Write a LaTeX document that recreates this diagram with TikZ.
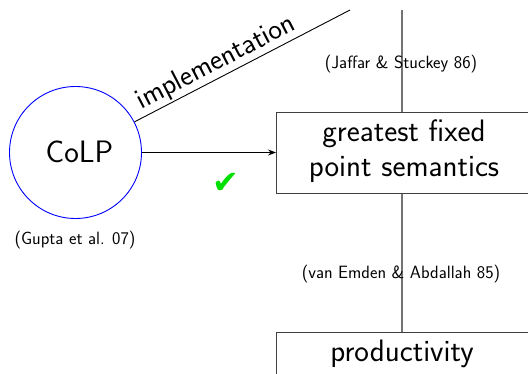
\documentclass[tikz,border=0pt]{standalone}
\usepackage{fontspec}
\renewcommand\familydefault{\sfdefault}
\newfontfamily\dingfont{DejaVu Sans}
\usetikzlibrary{arrows.meta}
\definecolor{rulegray}{HTML}{747474}
\definecolor{boxgray}{HTML}{404040}
\definecolor{tickgreen}{HTML}{00E000}
\tikzset{
  bigtext/.style={font=\fontsize{31}{35}\selectfont, inner sep=0pt, align=center},
  smalltext/.style={font=\fontsize{17.8}{21}\selectfont, inner sep=0pt},
  conceptbox/.style={draw=boxgray, line width=1.3pt, rectangle, inner sep=0pt, anchor=north west},
  colpcircle/.style={draw=blue, line width=0.9pt, circle, minimum size=132pt, inner sep=0pt},
  thread/.style={draw=rulegray, line width=1.8pt},
  link/.style={draw=black, line width=0.9pt},
}
\begin{document}
\begin{tikzpicture}[x=1pt, y=-1pt]
  \useasboundingbox (0,0) rectangle (528,374);
  \begin{scope}
    \clip (0,0) rectangle (528,374);

    % the chain of semantics on the right
    \coordinate (threadtop) at (402,10);
    \node[conceptbox, minimum width=300pt, minimum height=81pt] (gfpbox) at (276,112) {};
    \node[bigtext, anchor=base] (gfp) at (404,177) {greatest fixed\\point semantics};
    \node[conceptbox, minimum width=300pt, minimum height=80pt] (prodbox) at (276,332) {};
    \node[bigtext, anchor=base] (prod) at (402,362) {productivity};

    \draw[thread] (threadtop) -- (threadtop |- gfpbox.north);
    \draw[thread] (threadtop |- gfpbox.south) -- (threadtop |- prodbox.north);

    \node[smalltext, anchor=base] (jaffar) at (401,69) {(Jaffar \& Stuckey 86)};
    \node[smalltext, anchor=base] (vanemden) at (401,279) {(van Emden \& Abdallah 85)};

    % coinductive logic programming
    \node[colpcircle] (colp) at (75.5,152.5) {};
    \node[bigtext, anchor=base] (colplabel) at (79.5,163) {CoLP};
    \node[smalltext, anchor=base] (gupta) at (75,245) {(Gupta et al. 07)};

    \coordinate (implend) at (350,10);
    \draw[link] (colp) -- node[pos=0.41, sloped, above, inner sep=1.5pt, font=\fontsize{29}{34}\selectfont] {implementation} (implend);

    \draw[link, -{Stealth[length=8pt, width=6pt]}] (colp.east) -- (gfpbox.west |- colp.east);
    \node[text=tickgreen, font=\dingfont\fontsize{32}{32}\selectfont, inner sep=0pt] (tick) at (226,183) {✔};
  \end{scope}
\end{tikzpicture}
\end{document}
